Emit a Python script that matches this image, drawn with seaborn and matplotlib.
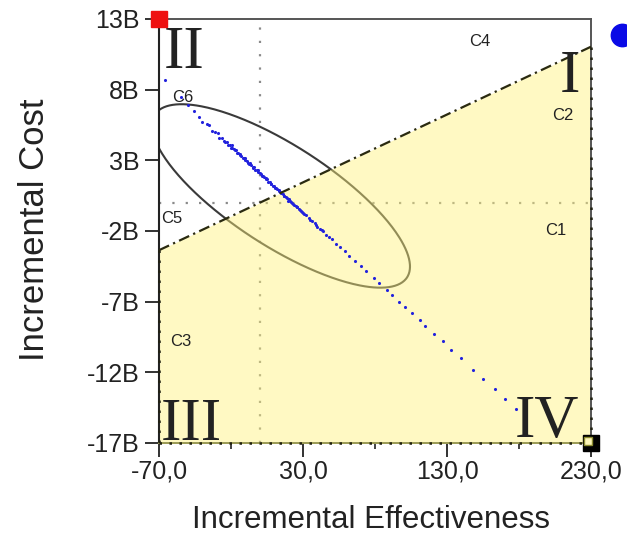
import numpy as np
import pandas as pd
import matplotlib
matplotlib.use("Agg")
import matplotlib.pyplot as plt
import seaborn as sns
from matplotlib.ticker import FixedLocator, FuncFormatter

# ---------------- data (incremental effectiveness, incremental cost in billions) ----------------
sim_effect = [-66, -55, -50, -46, -42, -40, -37, -35, -33, -31, -29, -28,
              -26, -25, -24, -23, -22, -21, -20, -19, -18, -17, -16, -15, -14, -13, -12, -11,
              -10, -9, -8, -7, -6, -5, -4, -3, -2, -1, 0, 1, 2, 3, 4, 5, 6, 7, 8, 9,
              10, 11, 12, 13, 14, 15, 16, 17, 18, 19, 20, 21, 22, 23, 24, 25, 26, 27, 28, 29,
              30, 32, 34, 36, 38, 40, 42, 44, 46, 48, 50, 53, 56, 59, 62,
              66, 70, 74, 79, 83, 88, 92, 97, 101, 106, 111, 115, 121, 127, 133, 140,
              148, 155, 163, 170, 178,
              -19.5, -16.5, -13.5, -10.5, -7.5, -4.5, -1.5, 1.5, 4.5, 7.5, 10.5, 13.5,
              16.5, 19.5, 22.5, 25.5, 28.5, 31, 35, 39, 43]
sim_cost = [8.7, 7.5, 6.9, 6.5, 6.1, 5.7, 5.6, 5.5, 5.1, 5.0, 4.9, 4.6,
            4.6, 4.4, 4.3, 4.3, 4.1, 4.1, 3.9, 3.9, 3.8, 3.7, 3.55, 3.5, 3.45, 3.3, 3.2, 3.15,
            3.0, 2.95, 2.8, 2.8, 2.65, 2.55, 2.5, 2.35, 2.3, 2.2, 2.1, 2.0, 1.9, 1.85, 1.7, 1.65, 1.5, 1.45, 1.35, 1.2,
            1.2, 1.05, 0.95, 0.9, 0.75, 0.7, 0.6, 0.45, 0.4, 0.3, 0.25, 0.1, 0.05, -0.1, -0.15, -0.25, -0.3, -0.45, -0.5, -0.65,
            -0.7, -0.9, -1.1, -1.3, -1.45, -1.7, -1.85, -2.0, -2.25, -2.4, -2.6, -2.9, -3.15, -3.4, -3.75,
            -4.1, -4.5, -4.8, -5.3, -5.7, -6.2, -6.5, -7.0, -7.4, -7.8, -8.3, -8.7, -9.3, -9.8, -10.4, -11.0,
            -11.8, -12.5, -13.2, -13.9, -14.6,
            4.05, 3.7, 3.35, 3.15, 2.75, 2.45, 2.35, 1.9, 1.75, 1.35, 1.05, 0.85,
            0.5, 0.15, -0.05, -0.3, -0.55, -0.8, -1.2, -1.55, -1.95]

# confidence ellipse (mean, spread, correlation)
ell_center = [14.7, 0.48]
ell_spread = [89.6, 6.49]
ell_corr = -0.77

# willingness-to-pay threshold line
wtp_effect = [-70, 230]
wtp_cost = [-3.36, 11.04]

x_ticks = [-70, 30, 130, 230]
x_minor = [-20, 80, 180]
y_ticks = [13, 8, 3, -2, -7, -12, -17]

quad_labels = ["II", "I", "III", "IV"]
quad_pos = [(-66.5, 9.5), (215.4, 7.8), (-68.5, -16.8), (221.5, -16.6)]
quad_ha = ["left", "center", "left", "right"]
c_labels = ["C1", "C2", "C3", "C4", "C5", "C6"]
c_pos = [(205.7, -1.93), (210.6, 6.14), (-54.7, -9.79), (152.9, 11.44), (-61.0, -1.15), (-53.3, 7.48)]

# ---------------- figure ----------------
sns.set_theme(style="white")
plt.rcParams["font.family"] = ["Liberation Sans", "DejaVu Sans"]

fig = plt.figure(figsize=(6.27, 5.54), dpi=100)
ax = fig.add_axes([159 / 627, 111 / 554, 432 / 627, 424 / 554])
ax.set_xlim(-70, 230)
ax.set_ylim(-17, 13)

# zero reference lines
ax.axvline(0, color="#8a8a8a", lw=1.6, ls=(0, (1, 5)), zorder=0.3)
ax.axhline(0, color="#8a8a8a", lw=1.6, ls=(0, (1, 5)), zorder=0.3)

# ellipse
t = np.linspace(0, 2 * np.pi, 400)
phi = np.arccos(ell_corr)
ex = ell_center[0] + ell_spread[0] * np.cos(t)
ey = ell_center[1] + ell_spread[1] * np.cos(t + phi)
ax.plot(ex, ey, color="#3a3a3a", lw=1.5, zorder=0.5)

# acceptable region (below WTP line)
ax.fill_between(wtp_effect, wtp_cost, -17, color="#fff27a", alpha=0.45, lw=0, zorder=1)
ax.plot(wtp_effect, wtp_cost, color="#2a2a10", lw=1.6, ls=(0, (5, 2, 1, 2)), zorder=3)
ax.plot([wtp_effect[0], wtp_effect[0]], [wtp_cost[0], -17], color="#202010", lw=1.8,
        ls=(0, (1, 3)), zorder=3, clip_on=False)
ax.plot([wtp_effect[1], wtp_effect[1]], [wtp_cost[1], -17], color="#202010", lw=1.8,
        ls=(0, (1, 3)), zorder=3, clip_on=False)
ax.plot([-70, 230], [-17, -17], color="#202010", lw=1.8, ls=(0, (1, 3)), zorder=3, clip_on=False)

# simulation scatter
df = pd.DataFrame({"effect": sim_effect, "cost": sim_cost})
sns.scatterplot(data=df, x="effect", y="cost", ax=ax, color="#2222dd", s=5,
                linewidth=0, zorder=2, legend=False)
ax.set_xlabel("")
ax.set_ylabel("")

# corner markers
ax.plot(-70, 13, marker="s", ms=12, color="#ee1111", clip_on=False, zorder=6)
ax.plot(230, -17, marker="s", ms=11, color="black", clip_on=False, zorder=6)
ax.plot(228.0, -16.85, marker="s", ms=6, mfc="#fdf6b8", mec="#8a8a30", mew=1,
        clip_on=False, zorder=7)
ax.scatter([251.5], [11.9], s=260, color="#0a0ae6", clip_on=False, zorder=6)

# quadrant labels
for lab, (qx, qy), ha in zip(quad_labels, quad_pos, quad_ha):
    ax.text(qx, qy, lab, fontsize=44, family=["Liberation Serif", "DejaVu Serif"],
            ha=ha, va="baseline", color="#222222", zorder=5)
for lab, (cxp, cyp) in zip(c_labels, c_pos):
    ax.text(cxp, cyp, lab, fontsize=12, ha="center", va="center", color="#222222", zorder=5)

# axes styling
ax.xaxis.set_major_locator(FixedLocator(x_ticks))
ax.xaxis.set_minor_locator(FixedLocator(x_minor))
ax.yaxis.set_major_locator(FixedLocator(y_ticks))
ax.xaxis.set_major_formatter(FuncFormatter(lambda v, p: f"{v:.1f}".replace(".", ",")))
ax.yaxis.set_major_formatter(FuncFormatter(lambda v, p: f"{v:g}B"))
ax.tick_params(axis="both", which="major", direction="out", length=10, width=1.3,
               color="#222222", labelsize=18, labelcolor="#222222", left=True, bottom=True)
ax.tick_params(axis="y", pad=4)
ax.tick_params(axis="x", pad=2)
ax.tick_params(axis="x", which="minor", direction="out", length=4, width=1.2,
               color="#222222", bottom=True)
ax.grid(False)
for side in ["top", "right"]:
    ax.spines[side].set_color("#555555")
    ax.spines[side].set_linewidth(1.4)
ax.spines["left"].set_color("#222222")
ax.spines["left"].set_linewidth(1.5)
ax.spines["bottom"].set_color("#9b9b55")
ax.spines["bottom"].set_linewidth(1.4)

fig.text(371 / 627, 1 - 520 / 554, "Incremental Effectiveness", fontsize=22.5,
         ha="center", va="center", color="#222222")
fig.text(35 / 627, 1 - 230 / 554, "Incremental Cost", fontsize=25, rotation=90,
         ha="center", va="center", color="#222222")

fig.savefig("out.png", dpi=100, facecolor="white")
